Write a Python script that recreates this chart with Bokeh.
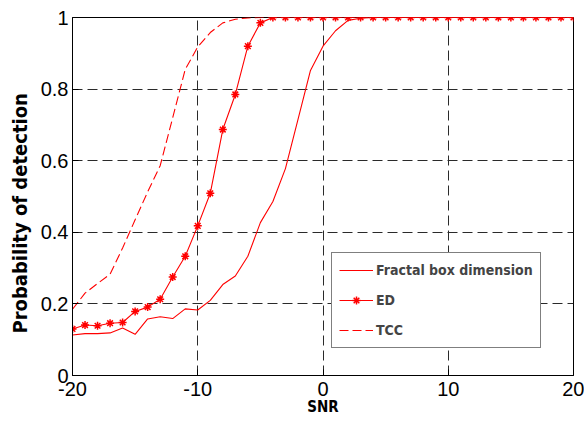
from bokeh.plotting import figure
from bokeh.models import Range1d, FixedTicker, Legend, LegendItem, Title
from bokeh.embed import file_html
from bokeh.resources import INLINE

snr = list(range(-20, 21))
fractal = [0.113, 0.117, 0.117, 0.119, 0.133, 0.115, 0.158, 0.164, 0.159, 0.186,
           0.183, 0.210, 0.254, 0.278, 0.333, 0.427, 0.486, 0.578, 0.715, 0.852,
           0.920, 0.963, 0.992, 0.998] + [1.0] * 17
ed = [0.130, 0.141, 0.139, 0.146, 0.148, 0.179, 0.191, 0.213, 0.275, 0.333,
      0.418, 0.509, 0.687, 0.785, 0.920, 0.985] + [1.0] * 25
tcc = [0.185, 0.230, 0.257, 0.283, 0.356, 0.435, 0.513, 0.586, 0.720, 0.855,
       0.918, 0.958, 0.985, 0.995, 0.999] + [1.0] * 26
x_ticks = [-20, -10, 0, 10, 20]
x_tick_labels = ["-20", "-10", "0", "10", "20"]
y_ticks = [0, 0.2, 0.4, 0.6, 0.8, 1]
y_tick_labels = ["0", "0.2", "0.4", "0.6", "0.8", "1"]
series_labels = ["Fractal box dimension", "ED", "TCC"]

COND = "DejaVu Sans Condensed, DejaVu Sans, sans-serif"

p = figure(width=584, height=421, output_backend="svg", toolbar_location=None,
           x_range=Range1d(-20, 20), y_range=Range1d(0, 1),
           min_border_left=72, min_border_right=11, min_border_top=17, min_border_bottom=46)
p.background_fill_color = "white"
p.border_fill_color = "white"
p.outline_line_color = "black"
p.outline_line_width = 1

for ax in (p.xaxis[0], p.yaxis[0]):
    ax.major_label_text_font = "Liberation Sans"
    ax.major_label_text_font_size = "20px"
    ax.major_label_text_color = "black"
    ax.axis_line_color = "black"
    ax.major_tick_in = 6
    ax.major_tick_out = 0
    ax.minor_tick_in = 0
    ax.minor_tick_out = 0
    ax.major_tick_line_color = "black"
p.xaxis.ticker = FixedTicker(ticks=x_ticks)
p.yaxis.ticker = FixedTicker(ticks=y_ticks)
p.xaxis.major_label_overrides = dict(zip(x_ticks, x_tick_labels))
p.yaxis.major_label_overrides = dict(zip(y_ticks, y_tick_labels))
p.xaxis.major_label_standoff = 6
p.yaxis.major_label_standoff = 4

p.xaxis.axis_label = "SNR"
p.xaxis.axis_label_text_font = COND
p.xaxis.axis_label_text_font_style = "bold"
p.xaxis.axis_label_text_font_size = "15px"
p.xaxis.axis_label_text_color = "black"
p.xaxis.axis_label_standoff = -1

for g in (p.xgrid[0], p.ygrid[0]):
    g.grid_line_color = "#2a2a2a"
    g.grid_line_dash = "10 5"
    g.grid_line_width = 1
p.xgrid.ticker = FixedTicker(ticks=[-10, 0, 10])
p.ygrid.ticker = FixedTicker(ticks=[0.2, 0.4, 0.6, 0.8])

r1 = p.line(snr, fractal, line_color="#ff0000", line_width=1.1)
r2 = p.line(snr, ed, line_color="#ff0000", line_width=1.1)
r2m = p.scatter(snr, ed, marker="asterisk", size=8, line_color="#ff0000", line_width=1.5)
r3 = p.line(snr, tcc, line_color="#ff0000", line_width=1.1, line_dash="9 4")

legend = Legend(items=[
    LegendItem(label=series_labels[0], renderers=[r1]),
    LegendItem(label=series_labels[1], renderers=[r2, r2m]),
    LegendItem(label=series_labels[2], renderers=[r3]),
], location=(259, 27))
legend.label_text_font = COND
legend.label_text_font_style = "bold"
legend.label_text_font_size = "14px"
legend.glyph_width = 34
legend.glyph_height = 20
legend.label_height = 20
legend.spacing = 10
legend.padding = 7
legend.margin = 0
legend.label_standoff = 3
legend.border_line_color = "black"
legend.border_line_width = 1
legend.background_fill_color = "white"
legend.background_fill_alpha = 1
p.add_layout(legend, "center")

ytitle = Title(text="Probability of detection", align="left", offset=42, standoff=11,
               text_font=COND, text_font_style="bold", text_font_size="20px",
               text_color="black")
p.add_layout(ytitle, "left")

open("out.html", "w").write(file_html(p, INLINE))
